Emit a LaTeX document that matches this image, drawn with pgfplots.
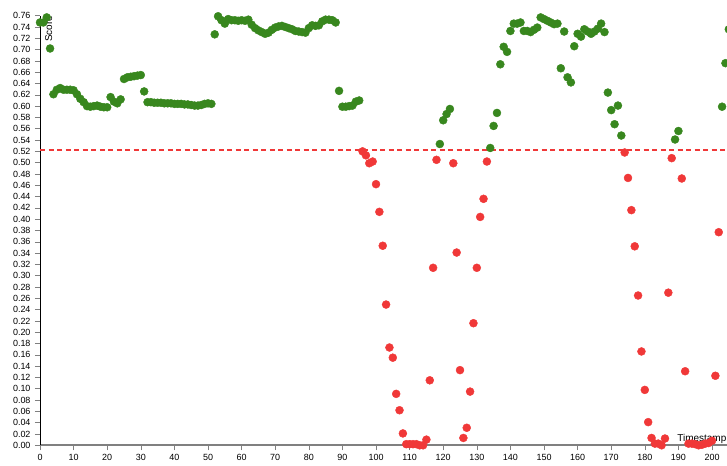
\documentclass[border=0pt]{standalone}
\usepackage{pgfplots}
\pgfplotsset{compat=1.18}
\usepackage{pgfplotstable}
\usepackage{fontspec}
\setmainfont{Liberation Sans}
\definecolor{dotgreen}{RGB}{56,135,30}
\definecolor{dotred}{RGB}{240,56,56}
\definecolor{axisgray}{RGB}{128,128,128}

\pgfplotstableread{
t v
0 0.748
1 0.748
2 0.757
3 0.702
4 0.621
5 0.629
6 0.632
7 0.629
8 0.629
9 0.629
10 0.628
11 0.621
12 0.613
13 0.607
14 0.600
15 0.599
16 0.600
17 0.601
18 0.599
19 0.598
20 0.598
21 0.616
22 0.608
23 0.605
24 0.612
25 0.648
26 0.651
27 0.652
28 0.653
29 0.654
30 0.655
31 0.626
32 0.607
33 0.607
34 0.606
35 0.606
36 0.606
37 0.605
38 0.605
39 0.605
40 0.604
41 0.604
42 0.604
43 0.603
44 0.603
45 0.602
46 0.601
47 0.601
48 0.602
49 0.604
50 0.605
51 0.604
52 0.727
53 0.759
54 0.752
55 0.746
56 0.754
57 0.752
58 0.752
59 0.751
60 0.752
61 0.751
62 0.753
63 0.744
64 0.738
65 0.734
66 0.731
67 0.728
68 0.730
69 0.735
70 0.739
71 0.741
72 0.742
73 0.740
74 0.738
75 0.736
76 0.733
77 0.732
78 0.731
79 0.730
80 0.738
81 0.743
82 0.742
83 0.743
84 0.750
85 0.753
86 0.753
87 0.752
88 0.748
89 0.627
90 0.599
91 0.599
92 0.600
93 0.601
94 0.608
95 0.610
119 0.533
120 0.575
121 0.586
122 0.595
134 0.526
135 0.565
136 0.588
137 0.674
138 0.705
139 0.696
140 0.733
141 0.746
142 0.746
143 0.748
144 0.733
145 0.733
146 0.731
147 0.735
148 0.739
149 0.757
150 0.754
151 0.751
152 0.748
153 0.745
154 0.746
155 0.667
156 0.732
157 0.651
158 0.642
159 0.706
160 0.728
161 0.723
162 0.736
163 0.732
164 0.728
165 0.732
166 0.737
167 0.746
168 0.731
169 0.624
170 0.593
171 0.568
172 0.601
173 0.548
189 0.541
190 0.556
203 0.599
204 0.676
205 0.736
}\greendata

\pgfplotstableread{
t v
96 0.520
97 0.513
98 0.499
99 0.502
100 0.462
101 0.413
102 0.353
103 0.249
104 0.173
105 0.155
106 0.091
107 0.062
108 0.021
109 0.002
110 0.002
111 0.002
112 0.002
113 0.000
114 0.000
115 0.010
116 0.115
117 0.314
118 0.505
123 0.499
124 0.341
125 0.133
126 0.013
127 0.031
128 0.095
129 0.216
130 0.314
131 0.404
132 0.436
133 0.502
174 0.518
175 0.473
176 0.416
177 0.352
178 0.265
179 0.166
180 0.098
181 0.041
182 0.013
183 0.003
184 0.003
185 0.000
186 0.012
187 0.270
188 0.508
191 0.472
192 0.131
193 0.003
194 0.003
195 0.002
196 0.000
197 0.001
198 0.003
199 0.004
200 0.008
201 0.123
202 0.377
}\reddata

\begin{document}
\begin{tikzpicture}
\begin{axis}[
  scale only axis, width=687bp, height=429.6bp,
  xmin=0, xmax=204.46, ymin=0, ymax=0.76,
  axis lines=left, axis line style={-},
  x axis line style={draw=axisgray, line width=1.8bp},
  y axis line style={draw=black, line width=0.8bp},
  xtick={0,10,20,30,40,50,60,70,80,90,100,110,120,130,140,150,160,170,180,190,200},
  ytick={0,0.02,0.04,0.06,0.08,0.10,0.12,0.14,0.16,0.18,0.20,0.22,0.24,0.26,0.28,0.30,0.32,0.34,0.36,0.38,0.40,0.42,0.44,0.46,0.48,0.50,0.52,0.54,0.56,0.58,0.60,0.62,0.64,0.66,0.68,0.70,0.72,0.74,0.76},
  tick align=outside, major tick length=5bp,
  every tick/.style={axisgray, line width=0.6bp},
  /pgf/number format/assume math mode=true,
  yticklabel style={/pgf/number format/.cd, fixed, fixed zerofill, precision=2, /tikz/.cd, font=\fontsize{9}{10}\selectfont, xshift=-1bp},
  xticklabel style={font=\fontsize{9}{10}\selectfont},
  scaled y ticks=false,
  clip=false,
]
\coordinate (bl) at (rel axis cs:0,0);
\coordinate (tr) at (rel axis cs:1,1);
\addplot[dotred, line width=2bp, dash pattern=on 5bp off 3.5bp] coordinates {(0,0.522) (204.46,0.522)};
\addplot[only marks, mark=*, mark size=4bp, mark options={draw=dotgreen, fill=dotgreen}] table[x=t, y=v] {\greendata};
\addplot[only marks, mark=*, mark size=4bp, mark options={draw=dotred, fill=dotred}] table[x=t, y=v] {\reddata};
\node[anchor=base east, font=\fontsize{10}{12}\selectfont, inner sep=0pt] at ([yshift=4bp, xshift=-0.5bp]rel axis cs:1,0) {Timestamp};
\node[rotate=90, anchor=north east, font=\fontsize{10}{12}\selectfont, inner sep=0pt] at ([xshift=5bp]rel axis cs:0,1) {Score};
\end{axis}
\pgfresetboundingbox
\path[use as bounding box] ([shift={(-40bp,-20bp)}]bl) rectangle ([shift={(0bp,15.7bp)}]tr);
\end{tikzpicture}
\end{document}
